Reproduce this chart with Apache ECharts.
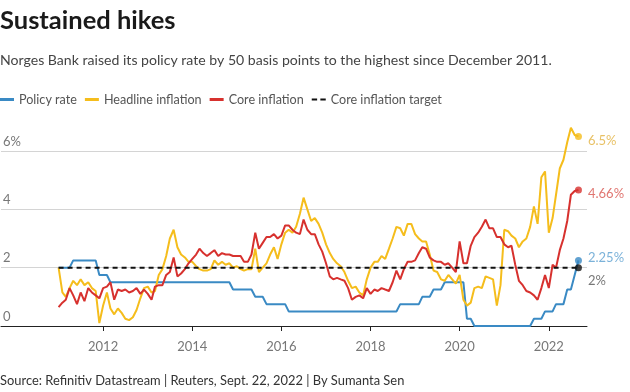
<!DOCTYPE html>
<html><head><meta charset="utf-8">
<script src="https://cdn.jsdelivr.net/npm/echarts@6/dist/echarts.min.js"></script>
<style>html,body{margin:0;padding:0;background:#fff}#c{width:630px;height:392px}</style>
</head><body><div id="c"></div>
<script>
// Monthly data, January 2011 onward
const startYear = 2011;
const policyRate = [
  2,2,2,2,2.25,2.25,2.25,2.25,2.25,2.25,2.25,1.75,
  1.75,1.75,1.5,1.5,1.5,1.5,1.5,1.5,1.5,1.5,1.5,1.5,
  1.5,1.5,1.5,1.5,1.5,1.5,1.5,1.5,1.5,1.5,1.5,1.5,
  1.5,1.5,1.5,1.5,1.5,1.5,1.5,1.5,1.5,1.5,1.5,1.25,
  1.25,1.25,1.25,1.25,1.25,1,1,1,0.75,0.75,0.75,0.75,
  0.75,0.75,0.5,0.5,0.5,0.5,0.5,0.5,0.5,0.5,0.5,0.5,
  0.5,0.5,0.5,0.5,0.5,0.5,0.5,0.5,0.5,0.5,0.5,0.5,
  0.5,0.5,0.5,0.5,0.5,0.5,0.5,0.5,0.75,0.75,0.75,0.75,
  0.75,0.75,1,1,1,1.25,1.25,1.25,1.5,1.5,1.5,1.5,
  1.5,1.5,0.25,0.25,0,0,0,0,0,0,0,0,
  0,0,0,0,0,0,0,0,0.25,0.25,0.25,0.5,
  0.5,0.5,0.75,0.75,0.75,1.25,1.25,1.75,2.25
];
const headlineInflation = [
  2.0,1.15,1.0,1.3,1.55,1.4,1.6,1.4,1.5,1.3,1.2,0.1,
  0.7,1.15,0.6,0.4,0.6,0.45,0.25,0.2,0.3,0.55,0.95,1.3,
  1.35,1.15,1.2,1.75,1.95,2.4,3.0,3.3,2.7,2.45,2.35,2.2,
  2.2,2.05,1.95,1.9,1.9,1.95,2.25,2.1,2.2,2.1,2.15,2.0,
  2.05,1.95,1.9,1.95,1.95,2.65,1.85,2.0,2.15,2.45,2.7,2.3,
  2.8,3.2,3.3,3.2,3.4,3.85,4.4,4.0,3.6,3.7,3.5,3.2,
  2.8,2.5,2.3,2.15,2.05,1.85,1.55,1.3,1.35,1.15,1.05,1.6,
  2.0,2.2,2.2,2.4,2.3,2.65,3.0,3.4,3.35,3.1,3.5,3.5,
  3.15,3.0,2.9,2.9,2.45,1.9,1.85,1.6,1.55,1.75,1.6,1.45,
  1.75,0.9,0.7,0.8,1.3,1.35,1.3,1.7,1.65,1.6,0.7,1.4,
  3.3,3.25,3.1,3.0,2.7,2.9,3.0,3.4,4.1,3.5,5.1,5.3,
  3.2,3.7,4.5,5.4,5.7,6.3,6.8,6.55,6.5
];
const coreInflation = [
  0.65,0.8,0.9,1.3,1.05,0.75,1.15,0.85,1.3,1.15,1.05,0.95,
  1.3,1.35,1.5,0.9,1.25,1.2,1.25,1.15,1.2,1.3,1.1,1.25,
  1.1,0.9,1.35,1.4,1.4,1.75,1.85,2.35,1.7,1.8,1.95,2.15,
  2.3,2.45,2.65,2.5,2.4,2.5,2.6,2.4,2.5,2.45,2.45,2.4,
  2.4,2.4,2.2,2.2,2.45,3.2,2.65,2.85,3.05,3.05,3.15,3.0,
  3.1,3.45,3.45,3.3,3.2,3.15,3.65,3.3,3.15,3.15,2.8,2.55,
  2.15,1.7,1.6,1.65,1.6,1.55,1.3,0.9,1.0,1.05,0.95,1.3,
  1.1,1.25,1.2,1.3,1.25,1.2,1.5,1.9,1.6,1.95,2.2,2.2,
  2.25,2.5,2.7,2.65,2.35,2.25,2.2,2.2,2.1,2.15,2.0,1.85,
  2.9,2.15,2.15,2.75,3.05,3.2,3.4,3.65,3.35,3.35,3.05,3.05,
  2.8,2.7,2.75,2.1,1.55,1.4,1.2,1.15,1.05,0.9,1.3,1.75,
  1.3,2.1,2.0,2.6,3.0,3.6,4.5,4.63,4.66
];
const targetDates = ['2011-01-01', '2022-09-01'];
const coreTarget = [2, 2];
const yearTicks = [2012, 2014, 2016, 2018, 2020, 2022];
const seriesNames = ['Policy rate', 'Headline inflation', 'Core inflation', 'Core inflation target'];

const BLUE = '#3a8ac4', YELLOW = '#f5bd1c', RED = '#d7312e', BLACK = '#111';
const FONT = 'Lato';

const monthDates = policyRate.map((_, i) => Date.UTC(startYear, i, 1));
const toPairs = (vals) => vals.map((v, i) => [monthDates[i], v]);
const tickValues = yearTicks.map(y => Date.UTC(y, 0, 1));
const tDates = targetDates.map(d => new Date(d + 'T00:00:00Z').getTime());

function endPoint(name, dates, vals, color, labelColor, offset) {
  const n = vals.length - 1;
  return {
    type: 'scatter', name: name, silent: true, z: 10, clip: false,
    data: [[dates[n], vals[n]]],
    symbol: 'circle', symbolSize: 7,
    itemStyle: { color: color },
    label: {
      show: true, position: 'right', distance: 6, offset: offset,
      formatter: (p) => p.value[1] + '%',
      color: labelColor, fontSize: 13, fontFamily: FONT
    }
  };
}

const chart = echarts.init(document.getElementById('c'), null, { renderer: 'canvas' });
chart.setOption({
  animation: false,
  backgroundColor: '#fff',
  title: [
    { text: 'Sustained hikes', left: 0, top: 8, padding: 0,
      textStyle: { fontFamily: FONT, fontSize: 25.5, fontWeight: 'bold', color: '#1a1a1a' } },
    { text: 'Norges Bank raised its policy rate by 50 basis points to the highest since December 2011.',
      left: 0, top: 53, padding: 0,
      textStyle: { fontFamily: FONT, fontSize: 14.1, fontWeight: 'normal', color: '#444' } },
    { text: 'Source: Refinitiv Datastream | Reuters, Sept. 22, 2022 | By Sumanta Sen',
      left: 0, top: 374, padding: 0,
      textStyle: { fontFamily: FONT, fontSize: 12.9, fontWeight: 'normal', color: '#333' } }
  ],
  legend: {
    left: 0, top: 93, padding: 0, itemGap: 8, itemWidth: 14, itemHeight: 3,
    textStyle: { fontFamily: FONT, fontSize: 12.6, color: '#555' },
    data: [
      { name: seriesNames[0], icon: 'rect' },
      { name: seriesNames[1], icon: 'rect' },
      { name: seriesNames[2], icon: 'rect' },
      { name: seriesNames[3], icon: 'path://M0,0H5V2H0Z M8,0H13V2H8Z' }
    ]
  },
  grid: { left: 0, right: 43, top: 151, bottom: 66, containLabel: false },
  xAxis: {
    type: 'value',
    min: Date.UTC(2009, 8, 16), max: Date.UTC(2022, 10, 10),
    axisLine: { show: true, lineStyle: { color: '#222', width: 1 } },
    axisTick: { show: true, length: 5, customValues: tickValues, lineStyle: { color: '#222' } },
    axisLabel: { customValues: tickValues, margin: 14, color: '#777', fontSize: 13, fontFamily: FONT,
      formatter: (v) => String(new Date(v).getUTCFullYear()) },
    splitLine: { show: false }
  },
  yAxis: {
    type: 'value', min: 0, max: 6, interval: 2,
    axisLine: { show: false }, axisTick: { show: false },
    axisLabel: { inside: true, margin: 2, verticalAlign: 'bottom', padding: [0, 0, 3, 0],
      color: '#777', fontSize: 13, fontFamily: FONT,
      formatter: (v) => v === 6 ? '6%' : String(v) },
    splitLine: { lineStyle: { color: '#d4d4d4', width: 1.2 } }
  },
  series: [
    { type: 'line', name: seriesNames[0], data: toPairs(policyRate), showSymbol: false, clip: false,
      color: BLUE, lineStyle: { color: BLUE, width: 2 } },
    { type: 'line', name: seriesNames[1], data: toPairs(headlineInflation), showSymbol: false, clip: false,
      color: YELLOW, lineStyle: { color: YELLOW, width: 2 } },
    { type: 'line', name: seriesNames[2], data: toPairs(coreInflation), showSymbol: false, clip: false,
      color: RED, lineStyle: { color: RED, width: 2 } },
    { type: 'line', name: seriesNames[3], data: tDates.map((d, i) => [d, coreTarget[i]]), showSymbol: false, clip: false,
      color: BLACK, lineStyle: { color: BLACK, width: 2, type: [5, 4] }, z: 5 },
    endPoint('end-headline', monthDates, headlineInflation, YELLOW, '#e2b13e', [0, 4]),
    endPoint('end-core', monthDates, coreInflation, RED, '#d8524c', [0, 4]),
    endPoint('end-policy', monthDates, policyRate, BLUE, '#5a9fcf', [0, -3]),
    endPoint('end-target', tDates, coreTarget, BLACK, '#555', [0, 13])
  ]
});
</script></body></html>
